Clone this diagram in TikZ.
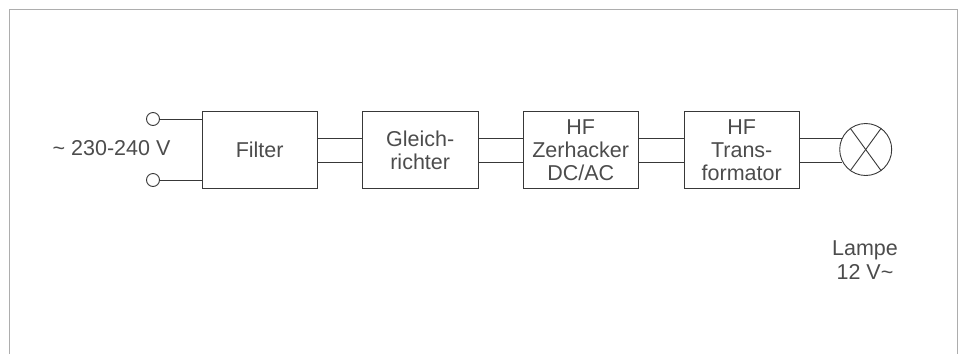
\documentclass[tikz,border=0pt]{standalone}
\usepackage{fontspec}
\setmainfont{Liberation Sans}
\definecolor{ink}{gray}{0.22}
\definecolor{inktext}{gray}{0.3}
\definecolor{framegray}{gray}{0.68}
\tikzset{
  x=1pt,y=-1pt,
  blockbox/.style={draw=ink,line width=0.9pt,minimum width=115.5pt,minimum height=77pt,inner sep=0pt,align=center,text=inktext,font=\fontsize{21.5}{23}\selectfont,anchor=north west},
  wire/.style={draw=ink,line width=0.9pt},
  terminal/.style={draw=ink,line width=0.9pt,circle,minimum size=13pt,inner sep=0pt},
  lamp/.style={draw=ink,line width=0.9pt,circle,minimum size=52pt,inner sep=0pt},
  label/.style={text=inktext,align=center,inner sep=0pt,font=\fontsize{21.5}{24}\selectfont},
}
\begin{document}
\begin{tikzpicture}
\useasboundingbox (0,0) rectangle (965,354);
\draw[framegray,line width=1.4pt] (9.5,354) -- (9.5,9.5) -- (957.5,9.5) -- (957.5,354);
\node[blockbox] (f) at (201.5,111) {Filter};
\node[blockbox] (g) at (362,111) {Gleich-\\richter};
\node[blockbox] (z) at (522.5,111) {HF\\Zerhacker\\DC/AC};
\node[blockbox] (t) at (683.5,111) {HF\\Trans-\\formator};
\node[lamp] (l) at (865.7,149.5) {};
\node[terminal] (a) at (153,119) {};
\node[terminal] (b) at (153,180) {};
\coordinate (up) at (0,138);
\coordinate (lo) at (0,162);
\draw[wire] (a.east) -- (f.west |- a.east);
\draw[wire] (b.east) -- (f.west |- b.east);
\foreach \p/\q in {f/g,g/z,z/t}{
  \draw[wire] (\p.east |- up) -- (\q.west |- up);
  \draw[wire] (\p.east |- lo) -- (\q.west |- lo);
}
\draw[wire] (t.east |- up) -- (l.153.7 |- up);
\draw[wire] (t.east |- lo) -- (l.206.3 |- lo);
\draw[wire] (l.126) -- (l.306);
\draw[wire] (l.54) -- (l.234);
\node[label] (v) at (111.5,148) {\textasciitilde\ 230-240 V};
\node[label] (p) at (865,260) {Lampe\\12 V\textasciitilde};
\end{tikzpicture}
\end{document}
